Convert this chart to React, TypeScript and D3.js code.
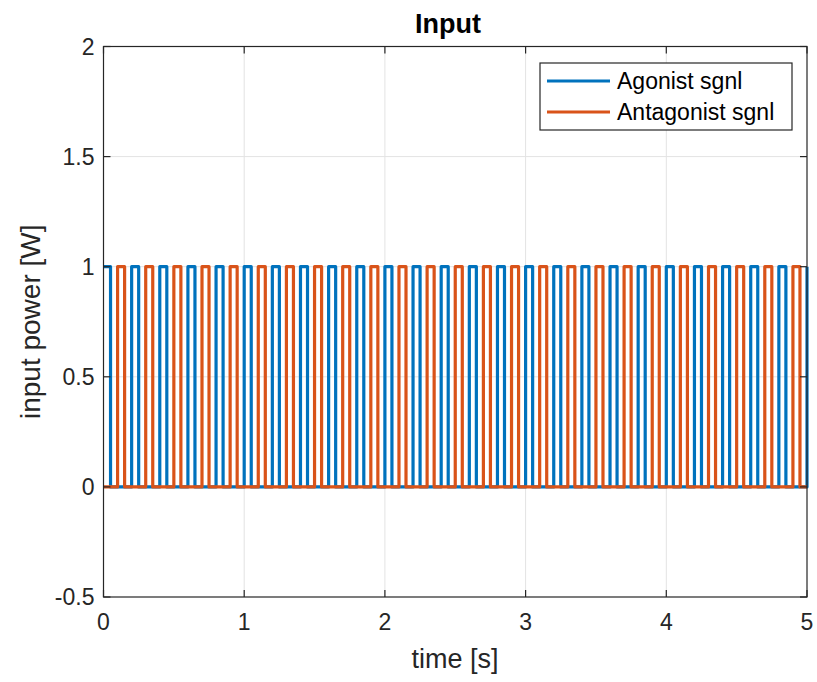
import React from "react";
import * as d3 from "d3";

const agonistOnsets = [
  0, 0.2, 0.4, 0.6, 0.8, 1.0, 1.2, 1.4, 1.6, 1.8, 2.0, 2.2, 2.4, 2.6, 2.8,
  3.0, 3.2, 3.4, 3.6, 3.8, 4.0, 4.2, 4.4, 4.6, 4.8, 5.0,
];
const antagonistOnsets = [
  0.1, 0.3, 0.5, 0.7, 0.9, 1.1, 1.3, 1.5, 1.7, 1.9, 2.1, 2.3, 2.5, 2.7, 2.9,
  3.1, 3.3, 3.5, 3.7, 3.9, 4.1, 4.3, 4.5, 4.7, 4.9,
];
const pulseDuration = 0.05;
const pulseHigh = 1;
const pulseLow = 0;
const tStart = 0;
const tEnd = 5;

const xTicks = [0, 1, 2, 3, 4, 5];
const yTicks = [-0.5, 0, 0.5, 1, 1.5, 2];
const seriesNames = ["Agonist sgnl", "Antagonist sgnl"];
const seriesColors = ["#0072BD", "#D95319"];

const W = 817;
const H = 682;
const FONT = "'Liberation Sans', Arial, Helvetica, sans-serif";

function buildSteps(onsets: number[]): [number, number][] {
  const pts: [number, number][] = [];
  if (onsets[0] > tStart) pts.push([tStart, pulseLow]);
  onsets.forEach((t) => {
    if (t > tStart) pts.push([t, pulseLow]);
    pts.push([t, pulseHigh]);
    if (t < tEnd) {
      pts.push([t + pulseDuration, pulseHigh]);
      pts.push([t + pulseDuration, pulseLow]);
    }
  });
  const last = pts[pts.length - 1];
  if (last[0] < tEnd) pts.push([tEnd, pulseLow]);
  return pts;
}

export default function App() {
  const x = d3.scaleLinear().domain([0, 5]).range([103.5, 807]);
  const y = d3.scaleLinear().domain([-0.5, 2]).range([597, 46.5]);
  const line = d3
    .line<[number, number]>()
    .x((d) => x(d[0]))
    .y((d) => y(d[1]));
  const series = [buildSteps(agonistOnsets), buildSteps(antagonistOnsets)];
  const x0 = x(0);
  const x1 = x(5);
  const y0 = y(-0.5);
  const y1 = y(2);
  const axisColor = "#262626";
  const tickLen = 7;
  const lgX = 540;
  const lgY = 63;
  return (
    <svg width={W} height={H} style={{ display: "block", position: "absolute", left: 0, top: 0, background: "#fff" }}>
      <defs>
        <clipPath id="plotclip">
          <rect x={x0 - 2} y={y1} width={x1 - x0 + 4} height={y0 - y1} />
        </clipPath>
      </defs>
      <rect x={0} y={0} width={W} height={H} fill="#fff" />
      {/* grid */}
      {xTicks.slice(1, -1).map((t) => (
        <line key={"gx" + t} x1={x(t)} x2={x(t)} y1={y1} y2={y0} stroke="#e3e3e3" strokeWidth={1} />
      ))}
      {yTicks.slice(1, -1).map((t) => (
        <line key={"gy" + t} x1={x0} x2={x1} y1={y(t)} y2={y(t)} stroke="#e3e3e3" strokeWidth={1} />
      ))}
      {/* series */}
      <g clipPath="url(#plotclip)">
        {series.map((s, i) => (
          <path key={i} d={line(s) || ""} fill="none" stroke={seriesColors[i]} strokeWidth={3.2} strokeLinejoin="round" />
        ))}
      </g>
      {/* box */}
      <rect x={x0} y={y1} width={x1 - x0} height={y0 - y1} fill="none" stroke={axisColor} strokeWidth={1.2} />
      {/* ticks */}
      {xTicks.map((t) => (
        <g key={"tx" + t}>
          <line x1={x(t)} x2={x(t)} y1={y0} y2={y0 - tickLen} stroke={axisColor} strokeWidth={1.2} />
          <line x1={x(t)} x2={x(t)} y1={y1} y2={y1 + tickLen} stroke={axisColor} strokeWidth={1.2} />
          <text x={x(t)} y={y0 + 33} textAnchor="middle" fontFamily={FONT} fontSize={23} fill={axisColor}>
            {String(t)}
          </text>
        </g>
      ))}
      {yTicks.map((t) => (
        <g key={"ty" + t}>
          <line x1={x0} x2={x0 + tickLen} y1={y(t)} y2={y(t)} stroke={axisColor} strokeWidth={1.2} />
          <line x1={x1} x2={x1 - tickLen} y1={y(t)} y2={y(t)} stroke={axisColor} strokeWidth={1.2} />
          <text x={x0 - 9} y={y(t) + 8} textAnchor="end" fontFamily={FONT} fontSize={23} fill={axisColor}>
            {String(t)}
          </text>
        </g>
      ))}
      {/* labels */}
      <text x={455} y={668} textAnchor="middle" fontFamily={FONT} fontSize={27} fill={axisColor}>
        time [s]
      </text>
      <text
        transform={`translate(40, ${(y0 + y1) / 2}) rotate(-90)`}
        textAnchor="middle"
        fontFamily={FONT}
        fontSize={28}
        fill={axisColor}
      >
        input power [W]
      </text>
      <text x={448} y={33} textAnchor="middle" fontFamily={FONT} fontSize={27} fontWeight="bold" fill="#000">
        Input
      </text>
      {/* legend */}
      <rect x={lgX} y={lgY} width={252} height={67} fill="#fff" stroke={axisColor} strokeWidth={1.2} />
      {seriesNames.map((n, i) => (
        <g key={n}>
          <line x1={547} x2={610} y1={81 + i * 31} y2={81 + i * 31} stroke={seriesColors[i]} strokeWidth={3.2} />
          <text x={617} y={89 + i * 31} fontFamily={FONT} fontSize={23} fill="#000">
            {n}
          </text>
        </g>
      ))}
    </svg>
  );
}
